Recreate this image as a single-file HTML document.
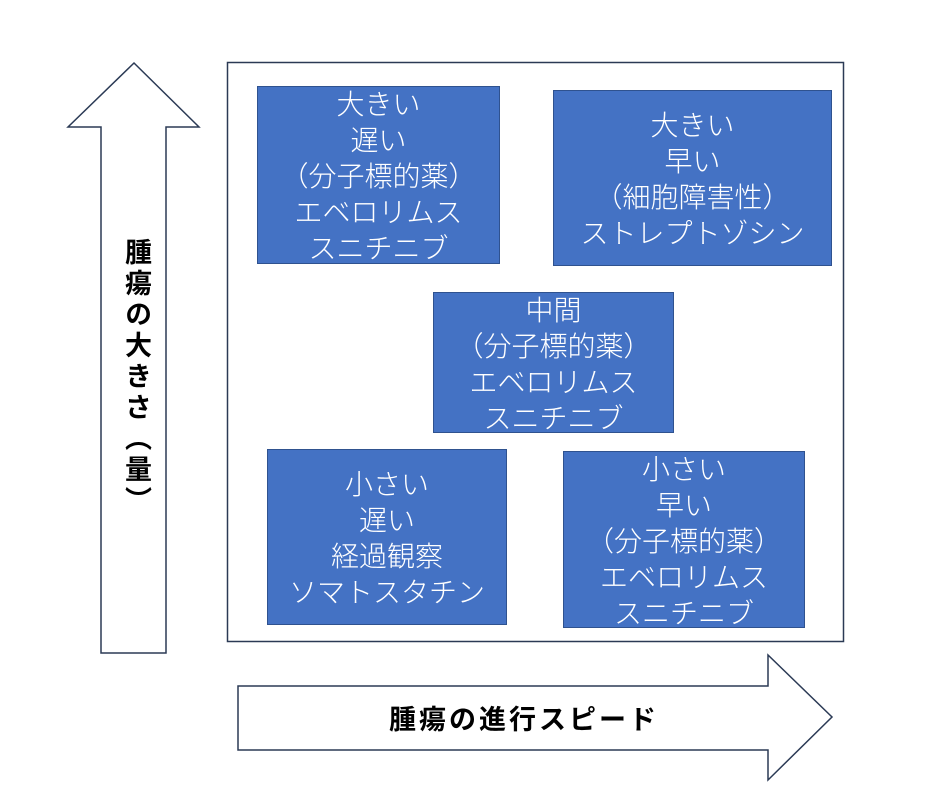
<!DOCTYPE html>
<html><head><meta charset="utf-8"><style>
body{margin:0;width:950px;height:810px;background:#fff;position:relative;overflow:hidden;font-family:"Noto Sans CJK JP","Liberation Sans",sans-serif}
.b{position:absolute;background:#4472C4;border:1.5px solid #2F528F;box-sizing:border-box;color:#fff;font-size:28px;font-weight:300;line-height:36px;text-align:center;display:flex;flex-direction:column;justify-content:center;white-space:nowrap}
.v{position:absolute;writing-mode:vertical-rl;font-weight:bold;font-size:27px;letter-spacing:4px;left:119px;top:238px;color:#000}
.h{position:absolute;font-weight:bold;font-size:27px;letter-spacing:3px;left:389px;top:698px;color:#000;white-space:nowrap}
</style></head><body>
<svg width="950" height="810" style="position:absolute;left:0;top:0">
<rect x="227.5" y="62.5" width="616" height="579" fill="none" stroke="#2b3a55" stroke-width="1.5"/>
<polygon points="134,63 199,127 166,127 166,653 101,653 101,127 68,127" fill="#fff" stroke="#2b3a55" stroke-width="1.5"/>
<polygon points="238,686 768,686 768,655 832,717 768,780 768,750 238,750" fill="#fff" stroke="#2b3a55" stroke-width="1.5"/>
</svg>
<div class="b" style="left:257px;top:86px;width:243px;height:178px">大きい<br>遅い<br>（分子標的薬）<br>エベロリムス<br>スニチニブ</div>
<div class="b" style="left:553px;top:90px;width:279px;height:176px">大きい<br>早い<br>（細胞障害性）<br>ストレプトゾシン</div>
<div class="b" style="left:433px;top:292px;width:241px;height:141px">中間<br>（分子標的薬）<br>エベロリムス<br>スニチニブ</div>
<div class="b" style="left:267px;top:449px;width:240px;height:176px">小さい<br>遅い<br>経過観察<br>ソマトスタチン</div>
<div class="b" style="left:563px;top:451px;width:242px;height:177px">小さい<br>早い<br>（分子標的薬）<br>エベロリムス<br>スニチニブ</div>
<div class="v">腫瘍の大きさ（量）</div>
<div class="h">腫瘍の進行スピード</div>
</body></html>
